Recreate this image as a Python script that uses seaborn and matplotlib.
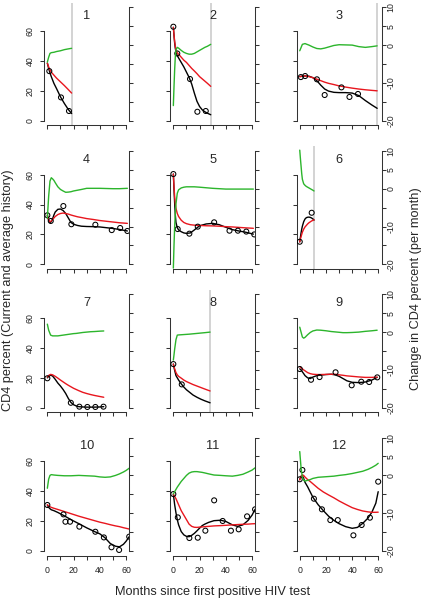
import matplotlib
matplotlib.use("Agg")
import matplotlib.pyplot as plt
import seaborn as sns

sns.set_style("white")
plt.rcParams["font.family"] = ["Liberation Sans", "DejaVu Sans"]

# observed CD4 (points), fitted current (black), average history (red),
# change per month (green, right axis), last visit (grey line)
p1_t = [1.5, 10.4, 16.5]
p1_cd4 = [33.2, 15.6, 6.5]
p1_months = [0, 1, 2, 3, 5, 7, 10, 13, 16, 18.5]
p1_current = [38.5, 35, 32, 29.5, 25, 21.5, 16, 11.5, 7.5, 4.8]
p1_average = [38.5, 36, 34, 32.5, 30.5, 28.5, 26, 23.5, 20.8, 18.5]
p1_change = [-4.5, -3.2, -2.2, -2.0, -1.9, -1.7, -1.5, -1.2, -1.0, -0.85]
p1_last = 18.5

p2_t = [0, 3, 12.7, 18.3, 24.7]
p2_cd4 = [62.9, 45, 27.9, 6, 6.5]
p2_months = [0, 0.5, 1, 1.5, 2, 3, 4, 6, 8, 10, 12, 14, 16, 18, 20, 22, 24, 26, 28.5]
p2_current = [62.5, 57, 52, 48.5, 46, 43.5, 42, 39, 36, 32.5, 29, 24.5, 18.5, 13, 9.5, 7.3, 6, 5, 4]
p2_average = [62.5, 57.5, 53, 50, 47.5, 45.5, 44.5, 42.5, 40.5, 39, 37, 35, 33.3, 31.5, 29.5, 28, 26.5, 25, 23]
p2_change = [-16, -11, -6.5, -3, -1.2, -0.6, -0.8, -1.4, -1.9, -2.2, -2.4, -2.4, -2.2, -1.8, -1.4, -1.0, -0.6, -0.3, 0.2]
p2_last = 28.5

p3_t = [0.8, 4.1, 13.1, 19, 31.8, 37.9, 44.4]
p3_cd4 = [29.2, 29.9, 27.7, 17.2, 22.3, 15.9, 17.9]
p3_months = [0, 2, 4, 7, 10, 13, 16, 19, 22, 26, 30, 35, 40, 45, 50, 55, 59]
p3_current = [29.5, 29.8, 30, 29.8, 28.8, 26.8, 23.8, 21.2, 19.8, 19, 18.8, 18.8, 18.5, 16.8, 13.5, 10.5, 8.3]
p3_average = [29.5, 29.8, 30, 29.5, 28.8, 27.8, 26.8, 25.8, 25, 24.2, 23.3, 22.5, 21.8, 21.2, 20.7, 20.3, 20]
p3_change = [-1.5, 0.2, 0.4, 0, -0.5, -0.9, -1.0, -0.8, -0.5, -0.1, 0.1, 0.05, 0, -0.4, -0.6, -0.4, -0.2]
p3_last = 59

p4_t = [0, 2.6, 12.2, 18.3, 36.6, 49.1, 55.5, 61]
p4_cd4 = [32.8, 29, 39, 26.8, 26.5, 22.9, 24.3, 22.3]
p4_months = [0, 1, 2, 3, 4, 5, 6, 8, 10, 12, 14, 16, 18, 20, 23, 26, 30, 35, 40, 45, 50, 55, 61]
p4_current = [32.8, 29.5, 28, 28.5, 30.5, 33, 35, 36.8, 37, 36, 34, 31, 28, 26.8, 26, 25.5, 25.3, 25.2, 25, 24.5, 24, 23.3, 22.3]
p4_average = [32.8, 29.5, 28.5, 29, 30, 31, 32, 33.3, 34, 34.3, 34, 33.6, 33, 32.5, 31.8, 31.3, 30.6, 30, 29.3, 28.8, 28.3, 27.8, 27.4]
p4_change = [-7.8, -2, 2, 2.9, 2.6, 2.2, 1.6, 0.5, -0.2, -0.6, -0.95, -0.9, -0.8, -0.6, -0.4, -0.2, 0.1, 0.1, 0.1, 0.05, 0, 0, 0.1]
p4_last = None

p5_t = [0, 3.3, 12.2, 18.6, 31.1, 42.8, 49.2, 55.6, 61.7]
p5_cd4 = [60.4, 23.6, 20.5, 25.2, 28.1, 22.5, 22.5, 21.9, 20]
p5_months = [0, 0.5, 1, 1.5, 2, 3, 4, 6, 8, 10, 13, 16, 20, 25, 30, 35, 40, 45, 50, 55, 61]
p5_current = [60.4, 50, 41, 33, 28, 24.5, 23, 21.8, 21, 20.7, 21, 23, 25.8, 27, 27.4, 26.5, 24.8, 23.2, 22.3, 21.5, 20.2]
p5_average = [60.4, 52, 45, 40.5, 37.5, 34, 32, 29.5, 28, 27.2, 26.5, 26.2, 26, 25.8, 25.7, 25.5, 25.2, 25, 24.7, 24.4, 24.1]
p5_change = [-21, -15, -10, -6.5, -4, -1.2, -0.3, 0.2, 0.4, 0.5, 0.5, 0.5, 0.4, 0.25, 0.1, 0, -0.1, -0.1, -0.1, -0.1, -0.1]
p5_last = None

p6_t = [0, 9.1]
p6_cd4 = [15.1, 34.5]
p6_months = [0, 0.5, 1, 1.5, 2, 3, 4, 5, 6, 7, 8, 9, 10, 10.9]
p6_current = [15, 18, 21, 23.5, 25.5, 28.5, 30.3, 31.2, 31.5, 31.6, 31.4, 31, 30.4, 29.6]
p6_average = [15, 17, 18.5, 20, 21.5, 23.5, 25, 26, 27, 27.8, 28.4, 29, 29.4, 29.8]
p6_change = [10.2, 8, 6, 4, 2.5, 1.3, 0.9, 0.6, 0.4, 0.2, 0, -0.2, -0.4, -0.6]
p6_last = 10.9

p7_t = [0, 17.9, 24.4, 30.5, 36.6, 42.8]
p7_cd4 = [19.7, 3.3, 0.7, 0.5, 0.5, 0.7]
p7_months = [0, 1, 2.5, 4, 6, 8, 10, 12, 14, 16, 18, 20, 22, 24, 27, 30, 33, 36, 40, 43]
p7_current = [20, 21, 21.8, 21.2, 19, 16.5, 14.5, 12.2, 9.5, 6.2, 3.5, 2, 1.2, 0.7, 0.5, 0.4, 0.4, 0.4, 0.5, 0.7]
p7_average = [20.5, 21.6, 22.3, 22, 21, 19.8, 18.5, 17.3, 16.1, 15, 14, 13, 12.2, 11.4, 10.3, 9.5, 8.8, 8.2, 7.5, 7]
p7_change = [2.1, 0.5, -0.8, -1.0, -1.0, -1.0, -0.9, -0.8, -0.7, -0.6, -0.5, -0.4, -0.35, -0.25, -0.1, 0, 0.1, 0.15, 0.25, 0.3]
p7_last = None

p8_t = [0, 6.4]
p8_cd4 = [29.2, 15.6]
p8_months = [0, 0.5, 1, 2, 3, 4, 6, 8, 10, 12, 15, 18, 21, 24, 28]
p8_current = [29.2, 27, 25, 21.5, 20, 18.5, 16, 13.8, 12, 10.6, 8.5, 7, 5.7, 4.6, 3.3]
p8_average = [29.2, 27.5, 26, 23.5, 22, 21, 19.8, 18.5, 17.5, 16.7, 15.5, 14.5, 13.5, 12.5, 11.2]
p8_change = [-7.4, -6, -4.5, -2, -0.8, -0.75, -0.7, -0.65, -0.6, -0.55, -0.45, -0.35, -0.25, -0.15, 0]
p8_last = 28

p9_t = [0, 8.6, 15.1, 27.3, 39.6, 46.9, 52.9, 59.1]
p9_cd4 = [25.9, 18.7, 20.5, 23.7, 15, 17.4, 17.2, 20.3]
p9_months = [0, 1, 2, 3, 4, 6, 8, 10, 13, 16, 20, 24, 27, 30, 33, 36, 40, 45, 50, 55, 59]
p9_current = [26, 25.3, 24, 22.8, 21.5, 20, 19.5, 20.5, 21.5, 21.8, 22.2, 22.4, 22, 21, 19.5, 18, 17, 16.8, 17.2, 18.5, 20.3]
p9_average = [27.4, 26.8, 26, 25.3, 24.7, 23.5, 22.8, 22.4, 22.2, 22.2, 22.3, 22.4, 22.4, 22, 21.7, 21.3, 21, 20.6, 20.3, 20.3, 20.5]
p9_change = [1.3, 0, -1.3, -1.6, -1.4, -0.7, -0.1, 0.3, 0.55, 0.5, 0.35, 0.15, 0.05, -0.05, -0.15, -0.15, -0.1, 0, 0.2, 0.35, 0.5]
p9_last = None

p10_t = [0, 12.3, 13.8, 17.3, 24.4, 36.6, 43.1, 48.9, 54.7, 62.4]
p10_cd4 = [30.8, 24.5, 19.6, 19.6, 16.3, 12.9, 9.1, 2.5, 0.7, 9.6]
p10_months = [0, 1, 2, 3, 5, 8, 13, 18, 24, 30, 36, 40, 44, 48, 52, 55, 58, 60, 62.4]
p10_current = [30.8, 29.2, 28.3, 27.6, 27, 25.8, 23.5, 21, 18.3, 15.5, 13, 11.5, 8.8, 5, 3.2, 2.8, 4.5, 6.5, 9.6]
p10_average = [31, 30.2, 29.6, 29.2, 28.6, 27.8, 26.4, 25, 23.3, 21.8, 20.3, 19.3, 18.5, 17.6, 16.8, 16.3, 15.6, 15.2, 14.7]
p10_change = [-3.4, -1, 0, 0.2, 0.1, 0, -0.1, -0.1, 0, -0.1, -0.2, -0.4, -0.5, -0.4, 0, 0.4, 0.9, 1.3, 1.9]
p10_last = None

p11_t = [0, 3.4, 12.2, 18.6, 24.4, 31.1, 37.6, 43.9, 49.8, 56.2, 62.3]
p11_cd4 = [38.1, 22.5, 8.7, 8.9, 13.6, 33.9, 20.1, 13.6, 14.5, 23.2, 27.9]
p11_months = [0, 1, 2, 3, 4, 6, 8, 10, 12, 14, 16, 18, 20, 22, 24, 27, 31, 36, 40, 45, 49, 53, 57, 60, 62.3]
p11_current = [38, 31, 25.5, 21, 17.5, 13, 10.8, 9.8, 9.6, 10.5, 11.8, 13.5, 15.3, 17, 18, 19.2, 20.3, 20.6, 19.8, 17.5, 16.5, 17.5, 20.5, 24, 27.9]
p11_average = [38, 36.5, 35, 33, 31, 27, 24, 21, 18, 16.5, 15.9, 15.8, 16, 16.1, 16.3, 16.5, 16.8, 17, 17.2, 17.5, 17.7, 17.9, 18, 18.2, 18.3]
p11_change = [-4.9, -4.3, -3.7, -3.1, -2.6, -1.6, -0.8, 0, 0.6, 0.9, 1.0, 1.0, 0.9, 0.8, 0.65, 0.4, 0.1, 0, -0.1, -0.2, 0, 0.3, 0.9, 1.4, 2.0]
p11_last = None

p12_t = [0, 2, 10.8, 16.9, 23.3, 29, 40.9, 47.2, 53.5, 59.8]
p12_cd4 = [48, 54.2, 35, 27.9, 20.7, 20.7, 10.5, 17.4, 22.3, 46.4]
p12_months = [0, 1, 2, 3, 4, 6, 8, 10, 14, 18, 22, 26, 30, 35, 40, 44, 48, 52, 55, 58, 59.8]
p12_current = [48, 50, 50.5, 48.5, 46, 43, 39.5, 36, 31, 27, 23.3, 20.5, 18.3, 16.3, 15.2, 15.8, 18.5, 22, 26, 32, 39.7]
p12_average = [47.5, 50, 51, 50.5, 49.5, 47.8, 46.5, 45, 42, 39.5, 37.5, 35.6, 33.5, 31.2, 29, 27.8, 26.8, 26.2, 25.9, 25.9, 26]
p12_change = [6.3, 2, -0.5, -1.3, -1.5, -1.3, -1.1, -0.8, -0.5, -0.4, -0.3, -0.2, 0, 0.2, 0.5, 0.8, 1.1, 1.6, 2.1, 2.7, 3.2]
p12_last = None

panels = [
    (p1_t, p1_cd4, p1_months, p1_current, p1_average, p1_change, p1_last),
    (p2_t, p2_cd4, p2_months, p2_current, p2_average, p2_change, p2_last),
    (p3_t, p3_cd4, p3_months, p3_current, p3_average, p3_change, p3_last),
    (p4_t, p4_cd4, p4_months, p4_current, p4_average, p4_change, p4_last),
    (p5_t, p5_cd4, p5_months, p5_current, p5_average, p5_change, p5_last),
    (p6_t, p6_cd4, p6_months, p6_current, p6_average, p6_change, p6_last),
    (p7_t, p7_cd4, p7_months, p7_current, p7_average, p7_change, p7_last),
    (p8_t, p8_cd4, p8_months, p8_current, p8_average, p8_change, p8_last),
    (p9_t, p9_cd4, p9_months, p9_current, p9_average, p9_change, p9_last),
    (p10_t, p10_cd4, p10_months, p10_current, p10_average, p10_change, p10_last),
    (p11_t, p11_cd4, p11_months, p11_current, p11_average, p11_change, p11_last),
    (p12_t, p12_cd4, p12_months, p12_current, p12_average, p12_change, p12_last),
]

x_ticks = [0, 10, 20, 30, 40, 50, 60]
x_labels = ["0", "", "20", "", "40", "", "60"]
left_ticks = [0, 20, 40, 60]
right_ticks = [-20, -15, -10, -5, 0, 5, 10]
right_labels = ["-20", "", "-10", "", "0", "5", "10"]

W, H = 426, 599
col_left = [44.2, 170.2, 296.6]
row_zero = [120.7, 264.3, 407.7, 551.0]
panel_w = 85.0
panel_h = 122.4

RED = "#E8161E"
GREEN = "#2CB52C"
AX = "#333333"

fig = plt.figure(figsize=(W / 100, H / 100), dpi=100)

for i, (t, cd4, months, current, average, change, last) in enumerate(panels):
    r, c = divmod(i, 3)
    bottom = H - (row_zero[r] + 4.5)
    ax = fig.add_axes([col_left[c] / W, bottom / H, panel_w / W, panel_h / H])
    ax.patch.set_alpha(0)
    ax2 = ax.twinx()

    if last is not None:
        ax.axvline(last, color="#C8C8C8", lw=1.1, zorder=0)

    sns.lineplot(x=months, y=current, ax=ax, color="black", lw=1.0,
                 sort=False, estimator=None)
    sns.lineplot(x=months, y=average, ax=ax, color=RED, lw=1.0,
                 sort=False, estimator=None)
    sns.scatterplot(x=t, y=cd4, ax=ax, marker="o", s=13, facecolor="none",
                    edgecolor="black", linewidth=0.75, zorder=5)
    sns.lineplot(x=months, y=change, ax=ax2, color=GREEN, lw=1.0,
                 sort=False, estimator=None)

    ax.set_xlim(-2.4, 62.4)
    ax.set_ylim(-3.0, 78.9)
    ax2.set_ylim(-21.19, 11.19)
    for a in (ax, ax2):
        a.set_xlabel("")
        a.set_ylabel("")
        for s in a.spines.values():
            s.set_visible(False)
            s.set_color(AX)
            s.set_linewidth(0.75)

    ax.spines["left"].set_visible(True)
    ax.spines["left"].set_bounds(0, 60)
    ax.spines["bottom"].set_visible(True)
    ax.spines["bottom"].set_bounds(0, 60)
    ax2.spines["right"].set_visible(True)
    ax2.spines["right"].set_bounds(-20, 10)

    ax.set_xticks(x_ticks, x_labels if r == 3 else [""] * 7)
    ax.set_yticks(left_ticks,
                  [str(v) for v in left_ticks] if c == 0 else [""] * 4,
                  rotation=90, va="center")
    ax2.set_yticks(right_ticks,
                   right_labels if c == 2 else [""] * 7,
                   rotation=90, va="center")

    ax.tick_params(axis="x", bottom=True, direction="out", length=2.9,
                   width=0.75, color=AX, labelsize=6.3, pad=5.0,
                   labelcolor="#222222")
    ax.tick_params(axis="y", left=True, right=False, direction="out",
                   length=2.9, width=0.75, color=AX, labelsize=6.3, pad=4.0,
                   labelcolor="#222222")
    ax2.tick_params(axis="y", right=True, left=False, direction="out",
                    length=2.9, width=0.75, color=AX, labelsize=6.3, pad=0.6,
                    labelcolor="#222222")

    ax.text(0.5, 0.891, str(i + 1), transform=ax.transAxes, ha="center",
            va="center", fontsize=9.2)

fig.text(8.5 / W, 1 - 290 / H, "CD4 percent (Current and average history)",
         rotation=90, ha="center", va="center", fontsize=9.2)
fig.text(416.5 / W, 1 - 289 / H, "Change in CD4 percent (per month)",
         rotation=90, ha="center", va="center", fontsize=9.2)
fig.text(212.5 / W, 1 - 595 / H, "Months since first positive HIV test",
         ha="center", va="baseline", fontsize=9.2)

fig.savefig("out.png", dpi=100)
